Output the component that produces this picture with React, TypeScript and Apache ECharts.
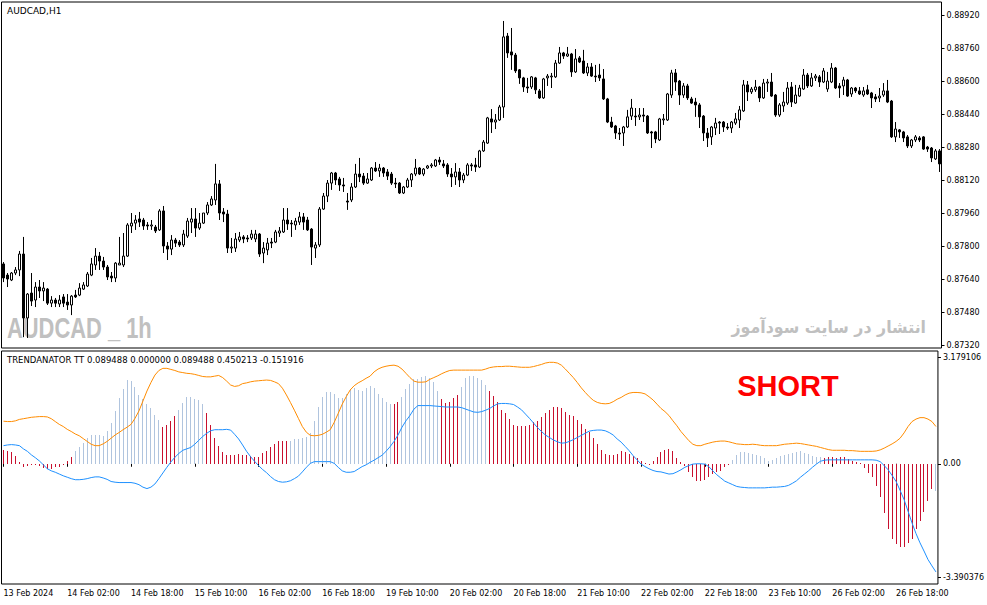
import React, { useEffect, useRef } from "react";
import * as echarts from "echarts";

// ---------- DATA ----------
const opens = [
  0.87713, 0.87659, 0.87635, 0.87669, 0.87684, 0.87761, 0.87451, 0.87572, 0.87538, 0.87601,
  0.87582, 0.87591, 0.87523, 0.87538, 0.87519, 0.87553, 0.87528, 0.87514, 0.87562, 0.87562,
  0.87591, 0.87606, 0.87659, 0.87708, 0.87751, 0.87727, 0.87698, 0.87654, 0.87645, 0.87708,
  0.87708, 0.87751, 0.87897, 0.87911, 0.87931, 0.87926, 0.87902, 0.87897, 0.87892, 0.87878,
  0.87970, 0.87800, 0.87785, 0.87829, 0.87819, 0.87805, 0.87848, 0.87916, 0.87931, 0.87887,
  0.87911, 0.87960, 0.87999, 0.88023, 0.88101, 0.87965, 0.87955, 0.87790, 0.87790, 0.87829,
  0.87844, 0.87839, 0.87839, 0.87834, 0.87858, 0.87766, 0.87781, 0.87819, 0.87819, 0.87863,
  0.87868, 0.87926, 0.87911, 0.87902, 0.87916, 0.87941, 0.87926, 0.87882, 0.87790, 0.87805,
  0.87979, 0.88042, 0.88105, 0.88154, 0.88125, 0.88096, 0.88018, 0.88023, 0.88086, 0.88149,
  0.88139, 0.88105, 0.88120, 0.88178, 0.88164, 0.88178, 0.88159, 0.88149, 0.88105, 0.88105,
  0.88057, 0.88086, 0.88120, 0.88149, 0.88178, 0.88149, 0.88178, 0.88188, 0.88188, 0.88217,
  0.88198, 0.88193, 0.88149, 0.88135, 0.88159, 0.88120, 0.88144, 0.88193, 0.88193, 0.88183,
  0.88261, 0.88299, 0.88416, 0.88401, 0.88411, 0.88474, 0.88818, 0.88741, 0.88726, 0.88654,
  0.88615, 0.88571, 0.88571, 0.88615, 0.88552, 0.88518, 0.88615, 0.88620, 0.88620, 0.88687,
  0.88736, 0.88721, 0.88731, 0.88644, 0.88712, 0.88697, 0.88639, 0.88668, 0.88624, 0.88629,
  0.88610, 0.88513, 0.88401, 0.88382, 0.88348, 0.88348, 0.88377, 0.88430, 0.88430, 0.88426,
  0.88435, 0.88430, 0.88353, 0.88353, 0.88314, 0.88411, 0.88411, 0.88532, 0.88639, 0.88600,
  0.88532, 0.88576, 0.88513, 0.88498, 0.88484, 0.88430, 0.88348, 0.88329, 0.88372, 0.88401,
  0.88401, 0.88377, 0.88372, 0.88396, 0.88411, 0.88455, 0.88581, 0.88547, 0.88557, 0.88571,
  0.88518, 0.88590, 0.88595, 0.88532, 0.88435, 0.88479, 0.88493, 0.88571, 0.88493, 0.88527,
  0.88561, 0.88629, 0.88576, 0.88615, 0.88620, 0.88595, 0.88561, 0.88595, 0.88663, 0.88576,
  0.88576, 0.88605, 0.88537, 0.88566, 0.88552, 0.88532, 0.88557, 0.88542, 0.88523, 0.88518,
  0.88532, 0.88552, 0.88503, 0.88329, 0.88363, 0.88353, 0.88329, 0.88285, 0.88314, 0.88324,
  0.88329, 0.88280, 0.88275, 0.88222, 0.88261,
];
const closes = [
  0.87645, 0.87640, 0.87669, 0.87684, 0.87761, 0.87451, 0.87567, 0.87533, 0.87601, 0.87582,
  0.87596, 0.87523, 0.87538, 0.87523, 0.87538, 0.87523, 0.87514, 0.87557, 0.87553, 0.87596,
  0.87611, 0.87664, 0.87713, 0.87751, 0.87727, 0.87698, 0.87650, 0.87645, 0.87717, 0.87717,
  0.87751, 0.87902, 0.87911, 0.87926, 0.87916, 0.87897, 0.87897, 0.87902, 0.87873, 0.87970,
  0.87800, 0.87785, 0.87829, 0.87814, 0.87805, 0.87858, 0.87921, 0.87931, 0.87887, 0.87911,
  0.87960, 0.87999, 0.88028, 0.88101, 0.87960, 0.87955, 0.87790, 0.87795, 0.87834, 0.87844,
  0.87834, 0.87834, 0.87858, 0.87858, 0.87761, 0.87790, 0.87814, 0.87814, 0.87868, 0.87873,
  0.87926, 0.87907, 0.87907, 0.87921, 0.87941, 0.87916, 0.87878, 0.87795, 0.87805, 0.87979,
  0.88042, 0.88105, 0.88154, 0.88120, 0.88096, 0.88091, 0.88013, 0.88086, 0.88149, 0.88135,
  0.88105, 0.88125, 0.88178, 0.88164, 0.88178, 0.88154, 0.88139, 0.88105, 0.88101, 0.88057,
  0.88086, 0.88120, 0.88149, 0.88178, 0.88149, 0.88173, 0.88188, 0.88193, 0.88217, 0.88207,
  0.88188, 0.88149, 0.88135, 0.88159, 0.88120, 0.88144, 0.88193, 0.88188, 0.88183, 0.88261,
  0.88304, 0.88421, 0.88401, 0.88411, 0.88474, 0.88814, 0.88736, 0.88726, 0.88649, 0.88615,
  0.88571, 0.88566, 0.88620, 0.88557, 0.88518, 0.88610, 0.88624, 0.88624, 0.88687, 0.88736,
  0.88721, 0.88731, 0.88644, 0.88707, 0.88692, 0.88639, 0.88668, 0.88624, 0.88620, 0.88615,
  0.88513, 0.88401, 0.88377, 0.88348, 0.88343, 0.88377, 0.88426, 0.88469, 0.88426, 0.88435,
  0.88430, 0.88348, 0.88348, 0.88319, 0.88416, 0.88416, 0.88537, 0.88639, 0.88595, 0.88532,
  0.88576, 0.88518, 0.88493, 0.88484, 0.88426, 0.88348, 0.88324, 0.88377, 0.88396, 0.88396,
  0.88377, 0.88372, 0.88401, 0.88416, 0.88460, 0.88581, 0.88547, 0.88561, 0.88571, 0.88518,
  0.88590, 0.88595, 0.88527, 0.88435, 0.88484, 0.88498, 0.88566, 0.88498, 0.88532, 0.88566,
  0.88629, 0.88576, 0.88615, 0.88624, 0.88595, 0.88649, 0.88600, 0.88663, 0.88566, 0.88566,
  0.88605, 0.88527, 0.88566, 0.88552, 0.88537, 0.88552, 0.88537, 0.88518, 0.88513, 0.88527,
  0.88552, 0.88498, 0.88329, 0.88367, 0.88353, 0.88324, 0.88285, 0.88314, 0.88329, 0.88314,
  0.88270, 0.88270, 0.88227, 0.88261, 0.88198,
];
const highs = [
  0.87722, 0.87669, 0.87674, 0.87698, 0.87776, 0.87844, 0.87572, 0.87669, 0.87625, 0.87635,
  0.87625, 0.87596, 0.87557, 0.87548, 0.87562, 0.87567, 0.87567, 0.87562, 0.87587, 0.87620,
  0.87625, 0.87674, 0.87742, 0.87790, 0.87771, 0.87747, 0.87708, 0.87674, 0.87722, 0.87844,
  0.87863, 0.87911, 0.87960, 0.87950, 0.87965, 0.87936, 0.87916, 0.87926, 0.87902, 0.87979,
  0.87994, 0.87819, 0.87853, 0.87839, 0.87829, 0.87878, 0.87936, 0.87984, 0.87984, 0.87960,
  0.87960, 0.88013, 0.88042, 0.88198, 0.88120, 0.87984, 0.87975, 0.87839, 0.87863, 0.87868,
  0.87853, 0.87853, 0.87878, 0.87878, 0.87863, 0.87819, 0.87839, 0.87839, 0.87878, 0.87892,
  0.87984, 0.87984, 0.87926, 0.87936, 0.87965, 0.87960, 0.87941, 0.87887, 0.87819, 0.87989,
  0.88057, 0.88120, 0.88159, 0.88159, 0.88135, 0.88130, 0.88057, 0.88105, 0.88198, 0.88227,
  0.88154, 0.88154, 0.88183, 0.88207, 0.88198, 0.88183, 0.88173, 0.88159, 0.88130, 0.88110,
  0.88091, 0.88130, 0.88154, 0.88222, 0.88183, 0.88178, 0.88193, 0.88202, 0.88222, 0.88232,
  0.88217, 0.88202, 0.88178, 0.88202, 0.88178, 0.88154, 0.88202, 0.88202, 0.88227, 0.88266,
  0.88314, 0.88426, 0.88464, 0.88440, 0.88484, 0.88891, 0.88833, 0.88857, 0.88736, 0.88658,
  0.88620, 0.88615, 0.88624, 0.88620, 0.88561, 0.88615, 0.88634, 0.88639, 0.88702, 0.88765,
  0.88741, 0.88765, 0.88736, 0.88755, 0.88721, 0.88751, 0.88687, 0.88687, 0.88678, 0.88683,
  0.88658, 0.88518, 0.88426, 0.88387, 0.88372, 0.88382, 0.88460, 0.88513, 0.88469, 0.88469,
  0.88469, 0.88435, 0.88358, 0.88358, 0.88421, 0.88440, 0.88542, 0.88654, 0.88658, 0.88605,
  0.88590, 0.88586, 0.88523, 0.88518, 0.88493, 0.88435, 0.88372, 0.88382, 0.88421, 0.88406,
  0.88406, 0.88396, 0.88406, 0.88445, 0.88479, 0.88605, 0.88600, 0.88571, 0.88605, 0.88576,
  0.88610, 0.88610, 0.88639, 0.88537, 0.88493, 0.88547, 0.88595, 0.88595, 0.88581, 0.88581,
  0.88658, 0.88639, 0.88639, 0.88634, 0.88629, 0.88663, 0.88644, 0.88687, 0.88668, 0.88590,
  0.88620, 0.88610, 0.88571, 0.88571, 0.88571, 0.88571, 0.88581, 0.88547, 0.88537, 0.88566,
  0.88590, 0.88605, 0.88508, 0.88401, 0.88367, 0.88358, 0.88338, 0.88319, 0.88338, 0.88333,
  0.88333, 0.88285, 0.88280, 0.88270, 0.88270,
];
const lows = [
  0.87625, 0.87601, 0.87630, 0.87659, 0.87654, 0.87358, 0.87354, 0.87509, 0.87504, 0.87548,
  0.87533, 0.87514, 0.87504, 0.87504, 0.87504, 0.87504, 0.87490, 0.87465, 0.87548, 0.87557,
  0.87587, 0.87601, 0.87654, 0.87684, 0.87684, 0.87684, 0.87635, 0.87625, 0.87625, 0.87708,
  0.87698, 0.87747, 0.87863, 0.87878, 0.87892, 0.87878, 0.87878, 0.87878, 0.87863, 0.87873,
  0.87766, 0.87732, 0.87756, 0.87795, 0.87795, 0.87795, 0.87839, 0.87863, 0.87844, 0.87878,
  0.87907, 0.87950, 0.87994, 0.87999, 0.87926, 0.87916, 0.87766, 0.87766, 0.87771, 0.87819,
  0.87814, 0.87819, 0.87829, 0.87819, 0.87747, 0.87717, 0.87756, 0.87790, 0.87814, 0.87844,
  0.87863, 0.87878, 0.87844, 0.87878, 0.87902, 0.87878, 0.87873, 0.87708, 0.87742, 0.87795,
  0.87975, 0.88013, 0.88072, 0.88096, 0.88067, 0.88062, 0.87975, 0.88013, 0.88081, 0.88110,
  0.88096, 0.88101, 0.88115, 0.88159, 0.88135, 0.88135, 0.88120, 0.88096, 0.88081, 0.88052,
  0.88052, 0.88081, 0.88086, 0.88139, 0.88144, 0.88139, 0.88173, 0.88178, 0.88183, 0.88193,
  0.88178, 0.88135, 0.88086, 0.88096, 0.88086, 0.88105, 0.88139, 0.88164, 0.88159, 0.88178,
  0.88256, 0.88295, 0.88348, 0.88367, 0.88406, 0.88421, 0.88712, 0.88654, 0.88639, 0.88586,
  0.88547, 0.88542, 0.88561, 0.88537, 0.88513, 0.88513, 0.88576, 0.88566, 0.88615, 0.88683,
  0.88707, 0.88717, 0.88620, 0.88639, 0.88687, 0.88634, 0.88624, 0.88620, 0.88595, 0.88600,
  0.88508, 0.88396, 0.88372, 0.88319, 0.88314, 0.88285, 0.88372, 0.88411, 0.88382, 0.88411,
  0.88401, 0.88343, 0.88275, 0.88299, 0.88309, 0.88387, 0.88406, 0.88518, 0.88552, 0.88484,
  0.88518, 0.88508, 0.88489, 0.88426, 0.88372, 0.88309, 0.88280, 0.88290, 0.88338, 0.88343,
  0.88353, 0.88363, 0.88348, 0.88387, 0.88372, 0.88450, 0.88503, 0.88537, 0.88547, 0.88498,
  0.88513, 0.88547, 0.88523, 0.88426, 0.88426, 0.88450, 0.88484, 0.88474, 0.88489, 0.88523,
  0.88557, 0.88566, 0.88571, 0.88600, 0.88571, 0.88590, 0.88547, 0.88590, 0.88561, 0.88518,
  0.88532, 0.88523, 0.88523, 0.88542, 0.88532, 0.88523, 0.88532, 0.88469, 0.88498, 0.88498,
  0.88523, 0.88493, 0.88324, 0.88304, 0.88324, 0.88304, 0.88275, 0.88275, 0.88304, 0.88304,
  0.88266, 0.88256, 0.88207, 0.88217, 0.88159,
];

const histValues = [
  0.39, 0.35, 0.33, 0.21, 0.05, -0.09, -0.05, -0.03, -0.03, -0.07,
  -0.12, -0.14, -0.15, -0.10, -0.08, -0.03, 0.07, 0.18, 0.35, 0.48,
  0.59, 0.72, 0.80, 0.80, 0.80, 0.79, 0.91, 1.15, 1.50, 1.84,
  2.10, 2.36, 2.33, 2.16, 1.95, 1.82, 1.68, 1.56, 1.38, 1.24,
  1.05, 1.08, 1.21, 1.36, 1.52, 1.71, 1.87, 1.87, 1.83, 1.80,
  1.68, 1.42, 1.08, 0.74, 0.49, 0.33, 0.24, 0.26, 0.26, 0.27,
  0.26, 0.26, 0.21, 0.20, 0.20, 0.29, 0.37, 0.46, 0.55, 0.63,
  0.64, 0.64, 0.64, 0.69, 0.70, 0.72, 0.76, 0.88, 1.20, 1.60,
  1.88, 2.02, 2.03, 1.96, 1.86, 1.84, 1.96, 2.11, 2.14, 2.08,
  2.05, 2.13, 2.19, 2.13, 1.96, 1.84, 1.73, 1.69, 1.68, 1.73,
  1.89, 2.10, 2.24, 2.38, 2.38, 2.45, 2.48, 2.43, 2.31, 2.05,
  1.83, 1.72, 1.75, 1.84, 1.94, 2.15, 2.41, 2.47, 2.47, 2.41,
  2.36, 2.22, 2.05, 1.91, 1.73, 1.52, 1.42, 1.26, 1.10, 1.07,
  1.07, 1.07, 1.10, 1.17, 1.21, 1.33, 1.42, 1.52, 1.59, 1.59,
  1.56, 1.45, 1.38, 1.35, 1.24, 1.12, 0.98, 0.89, 0.72, 0.56,
  0.39, 0.28, 0.25, 0.25, 0.28, 0.35, 0.33, 0.28, 0.22, 0.16,
  0.08, 0.01, 0.00, 0.07, 0.19, 0.33, 0.39, 0.42, 0.37, 0.16,
  0.05, -0.05, -0.22, -0.36, -0.48, -0.50, -0.45, -0.36, -0.29, -0.23,
  -0.20, -0.10, -0.02, 0.11, 0.25, 0.33, 0.33, 0.30, 0.27, 0.25,
  0.21, 0.16, 0.08, 0.11, 0.16, 0.23, 0.25, 0.27, 0.30, 0.33,
  0.35, 0.30, 0.27, 0.21, 0.18, 0.18, 0.16, 0.18, 0.18, 0.16,
  0.18, 0.18, 0.14, 0.07, 0.05, 0.01, -0.12, -0.26, -0.38, -0.62,
  -0.95, -1.39, -1.85, -2.11, -2.26, -2.34, -2.34, -2.23, -2.11, -1.85,
  -1.62, -1.36, -1.06, -0.70, -0.76,
];
// r = crimson bar, g = light steel blue bar
const histState =
  "rrrrrrrrrr" + "rrrrrrrr" +
  "gggggggggg" + "gggggggggg" + "gg" +
  "rrrr" +
  "ggggggg" +
  "rrrrrrrrrr" + "rrrrrrrrrr" + "r" +
  "gggggggggg" + "gggggggggg" + "gggggg" +
  "rr" +
  "gggggggggg" +
  "rrrrr" +
  "ggggggg" +
  "rrrrrrrrrr" + "rrrrrrrrrr" + "rrrrrrrrrr" + "rrrrrrrrrr" + "rrrrrrrrrr" + "rrrrrrrrrr" + "r" +
  "gggggggggg" + "gggggggggg" + "ggg" +
  "rrrrrrrrrr" + "rrrrrrrrrr" + "rrrrrrrr" +
  "g";

const orangeLine = [
  1.20, 1.19, 1.19, 1.21, 1.25, 1.27, 1.29, 1.31, 1.32, 1.33,
  1.33, 1.32, 1.27, 1.19, 1.11, 1.05, 0.97, 0.91, 0.84, 0.79,
  0.71, 0.63, 0.55, 0.51, 0.51, 0.56, 0.63, 0.72, 0.81, 0.88,
  0.96, 1.03, 1.11, 1.28, 1.49, 1.77, 2.05, 2.29, 2.50, 2.63,
  2.69, 2.69, 2.66, 2.63, 2.59, 2.57, 2.55, 2.54, 2.52, 2.49,
  2.46, 2.45, 2.45, 2.47, 2.49, 2.43, 2.33, 2.22, 2.18, 2.20,
  2.26, 2.28, 2.31, 2.33, 2.34, 2.35, 2.36, 2.35, 2.31, 2.26,
  2.13, 1.94, 1.73, 1.51, 1.28, 1.05, 0.89, 0.80, 0.79, 0.80,
  0.83, 0.89, 0.96, 1.17, 1.42, 1.68, 1.89, 2.08, 2.20, 2.28,
  2.34, 2.41, 2.47, 2.59, 2.67, 2.72, 2.75, 2.77, 2.78, 2.75,
  2.67, 2.55, 2.43, 2.33, 2.30, 2.30, 2.31, 2.38, 2.43, 2.48,
  2.54, 2.59, 2.63, 2.64, 2.64, 2.64, 2.64, 2.64, 2.64, 2.64,
  2.64, 2.67, 2.71, 2.73, 2.74, 2.74, 2.75, 2.75, 2.74, 2.73,
  2.72, 2.72, 2.72, 2.74, 2.77, 2.80, 2.84, 2.86, 2.86, 2.84,
  2.78, 2.67, 2.55, 2.43, 2.29, 2.14, 2.01, 1.89, 1.79, 1.73,
  1.70, 1.69, 1.70, 1.75, 1.82, 1.87, 1.94, 1.99, 2.01, 2.01,
  2.00, 1.97, 1.89, 1.80, 1.68, 1.56, 1.47, 1.36, 1.21, 1.07,
  0.91, 0.78, 0.65, 0.55, 0.51, 0.51, 0.55, 0.58, 0.61, 0.63,
  0.64, 0.64, 0.62, 0.59, 0.56, 0.55, 0.54, 0.54, 0.55, 0.54,
  0.52, 0.51, 0.51, 0.51, 0.51, 0.53, 0.55, 0.56, 0.57, 0.58,
  0.57, 0.55, 0.53, 0.51, 0.49, 0.46, 0.43, 0.40, 0.38, 0.38,
  0.38, 0.38, 0.37, 0.37, 0.36, 0.35, 0.35, 0.35, 0.35, 0.36,
  0.39, 0.44, 0.50, 0.56, 0.63, 0.72, 0.87, 1.05, 1.19, 1.26,
  1.30, 1.30, 1.26, 1.19, 1.05,
];
const blueLine = [
  0.51, 0.53, 0.54, 0.53, 0.51, 0.42, 0.35, 0.25, 0.17, 0.08,
  -0.03, -0.14, -0.20, -0.24, -0.29, -0.34, -0.38, -0.42, -0.45, -0.45,
  -0.44, -0.42, -0.39, -0.37, -0.37, -0.40, -0.44, -0.50, -0.52, -0.53,
  -0.53, -0.53, -0.53, -0.55, -0.59, -0.66, -0.70, -0.66, -0.57, -0.42,
  -0.26, -0.10, 0.05, 0.18, 0.29, 0.38, 0.42, 0.46, 0.55, 0.66,
  0.77, 0.86, 0.93, 0.96, 0.96, 0.96, 0.97, 0.95, 0.83, 0.70,
  0.53, 0.35, 0.20, 0.07, -0.05, -0.16, -0.25, -0.36, -0.45, -0.50,
  -0.52, -0.51, -0.48, -0.42, -0.35, -0.23, -0.10, 0.01, 0.06, 0.06,
  0.06, 0.06, 0.06, 0.01, -0.10, -0.20, -0.24, -0.24, -0.22, -0.15,
  -0.08, -0.03, 0.04, 0.10, 0.17, 0.24, 0.35, 0.48, 0.63, 0.81,
  1.03, 1.21, 1.36, 1.54, 1.64, 1.64, 1.64, 1.64, 1.63, 1.62,
  1.61, 1.60, 1.60, 1.60, 1.60, 1.58, 1.54, 1.50, 1.46, 1.45,
  1.47, 1.51, 1.56, 1.63, 1.69, 1.70, 1.70, 1.69, 1.67, 1.60,
  1.52, 1.40, 1.28, 1.15, 1.02, 0.91, 0.81, 0.74, 0.67, 0.62,
  0.58, 0.59, 0.63, 0.68, 0.74, 0.80, 0.86, 0.92, 0.94, 0.95,
  0.95, 0.93, 0.88, 0.81, 0.70, 0.61, 0.49, 0.37, 0.23, 0.11,
  -0.01, -0.08, -0.14, -0.19, -0.22, -0.23, -0.26, -0.29, -0.28, -0.23,
  -0.17, -0.10, -0.05, -0.01, 0.00, 0.00, -0.01, -0.08, -0.20, -0.31,
  -0.40, -0.49, -0.54, -0.59, -0.64, -0.66, -0.67, -0.68, -0.68, -0.68,
  -0.68, -0.68, -0.67, -0.66, -0.66, -0.65, -0.64, -0.61, -0.55, -0.48,
  -0.38, -0.29, -0.20, -0.10, -0.01, 0.07, 0.10, 0.11, 0.11, 0.11,
  0.11, 0.11, 0.11, 0.11, 0.11, 0.11, 0.11, 0.11, 0.11, 0.10,
  0.06, -0.05, -0.17, -0.33, -0.50, -0.75, -1.01, -1.34, -1.67, -1.97,
  -2.23, -2.46, -2.70, -2.88, -3.05,
];

const xTickLabels = [
  "13 Feb 2024", "14 Feb 02:00", "14 Feb 18:00", "15 Feb 10:00", "16 Feb 02:00",
  "16 Feb 18:00", "19 Feb 10:00", "20 Feb 02:00", "20 Feb 18:00", "21 Feb 10:00",
  "22 Feb 02:00", "22 Feb 18:00", "23 Feb 10:00", "26 Feb 02:00", "26 Feb 18:00",
];
const barsPerLabel = 16;
const priceTicks = [
  0.8732, 0.8748, 0.8764, 0.878, 0.8796, 0.8812, 0.8828, 0.8844, 0.886, 0.8876, 0.8892,
];
const indMin = -3.390376;
const indMax = 3.179106;
const indTickLabels = ["-3.390376", "0.00", "3.179106"];
const indicatorTitle = "TRENDANATOR TT 0.089488 0.000000 0.089488 0.450213 -0.151916";

// ---------- layout / style ----------
const FONT = "DejaVu Sans";
const RED = "#C8102E";
const GREY = "#B0C4DE";
const MAIN_TOP = 2;
const MAIN_H = 346;
const IND_TOP = 351;
const IND_H = 233;
const PX_PER_PRICE = 330 / 0.016;

export default function App() {
  const ref = useRef<HTMLDivElement>(null);

  useEffect(() => {
    if (!ref.current) return;
    const chart = echarts.init(ref.current, undefined, { renderer: "svg" });
    const n = opens.length;
    const cats = opens.map((_, i) => String(i));
    const mainMax = 0.8892 + 13 / PX_PER_PRICE;
    const mainMin = 0.8732 - 3 / PX_PER_PRICE;
    const indPx = IND_H / (indMax - indMin);
    const indLabelPos = [indMin + 7 / indPx, 0, indMax - 6.7 / indPx];
    const showIdx = (idx: number) => idx % barsPerLabel === 0;

    const option: any = {
      animation: false,
      backgroundColor: "#ffffff",
      grid: [
        { left: 1.5, top: MAIN_TOP, width: 4 * n, height: MAIN_H, show: true, borderColor: "#000", borderWidth: 1, backgroundColor: "transparent" },
        { left: 1.5, top: IND_TOP, width: 4 * n, height: IND_H, show: true, borderColor: "#000", borderWidth: 1, backgroundColor: "transparent" },
      ],
      xAxis: [
        {
          type: "category", gridIndex: 0, data: cats, boundaryGap: true,
          axisLine: { show: false }, axisTick: { show: false }, axisLabel: { show: false }, splitLine: { show: false },
        },
        {
          type: "category", gridIndex: 1, data: cats, boundaryGap: true,
          axisLine: { show: false },
          axisTick: { show: true, alignWithLabel: true, interval: (i: number) => showIdx(i), length: 3, lineStyle: { color: "#000", width: 1 } },
          axisLabel: {
            interval: (i: number) => showIdx(i),
            formatter: (_v: string, i: number) => xTickLabels[Math.round(i / barsPerLabel)] ?? "",
            align: "left", fontSize: 8, fontFamily: FONT, color: "#000", margin: 5,
          },
          splitLine: { show: false },
        },
      ],
      yAxis: [
        {
          type: "value", gridIndex: 0, position: "right", min: mainMin, max: mainMax, scale: true,
          axisLine: { show: false }, splitLine: { show: false },
          axisTick: { show: true, length: 3, customValues: priceTicks, lineStyle: { color: "#000" } },
          axisLabel: { customValues: priceTicks, formatter: (v: number) => v.toFixed(5), fontSize: 8, fontFamily: FONT, color: "#000", margin: 5 },
        },
        {
          type: "value", gridIndex: 1, position: "right", min: indMin, max: indMax,
          axisLine: { show: false }, splitLine: { show: false },
          axisTick: { show: true, length: 3, customValues: indLabelPos, lineStyle: { color: "#000" } },
          axisLabel: {
            customValues: indLabelPos,
            formatter: (v: number) => (v > 1 ? indTickLabels[2] : v < -1 ? indTickLabels[0] : indTickLabels[1]),
            fontSize: 8, fontFamily: FONT, color: "#000", margin: 5,
          },
        },
      ],
      graphic: [
        { type: "text", x: 7, y: 327.5, scaleX: 0.73, z: 1, silent: true,
          style: { text: "AUDCAD _ 1h", fontSize: 30, fontWeight: "bold", fontFamily: "Liberation Sans", fill: "#C0C0C0", verticalAlign: "middle" } },
        { type: "text", x: 926, y: 327, scaleX: 0.93, z: 1, silent: true,
          style: { text: "انتشار در سایت سودآموز", fontSize: 17, fontWeight: "bold", fontFamily: FONT, fill: "#C0C0C0", align: "right", verticalAlign: "middle" } },
        { type: "text", x: 7, y: 10.7, z: 10, silent: true,
          style: { text: "AUDCAD,H1", fontSize: 9, fontFamily: FONT, fill: "#000", verticalAlign: "middle" } },
        { type: "text", x: 7, y: 360, z: 10, silent: true,
          style: { text: indicatorTitle, fontSize: 8.5, fontFamily: FONT, fill: "#000", verticalAlign: "middle" } },
        { type: "text", x: 788, y: 386, z: 10, silent: true,
          style: { text: "SHORT", fontSize: 29, fontWeight: "bold", fontFamily: "Liberation Sans", fill: "#FF0000", align: "center", verticalAlign: "middle" } },
      ],
      series: [
        {
          type: "candlestick", xAxisIndex: 0, yAxisIndex: 0, barWidth: 3,
          data: opens.map((o, i) => [o, closes[i], lows[i], highs[i]]),
          itemStyle: { color: "#ffffff", color0: "#000000", borderColor: "#000000", borderColor0: "#000000", borderWidth: 1 },
        },
        {
          type: "custom", xAxisIndex: 1, yAxisIndex: 1, z: 2,
          data: histValues.map((v, i) => [i, v]),
          encode: { x: 0, y: 1 },
          renderItem: (params: any, api: any) => {
            const idx = api.value(0);
            const v = api.value(1);
            const p0 = api.coord([idx, 0]);
            const p1 = api.coord([idx, v]);
            const x = Math.floor(p0[0]);
            const y0 = Math.round(p0[1]);
            const y1 = Math.round(p1[1]);
            return {
              type: "rect",
              shape: { x, y: Math.min(y0, y1), width: 1, height: Math.max(1, Math.abs(y1 - y0)) },
              style: { fill: histState[params.dataIndex] === "r" ? RED : GREY },
            };
          },
        },
        {
          type: "line", xAxisIndex: 1, yAxisIndex: 1, data: orangeLine, symbol: "none", showSymbol: false,
          lineStyle: { color: "#FF8C00", width: 1 }, z: 3,
        },
        {
          type: "line", xAxisIndex: 1, yAxisIndex: 1, data: blueLine, symbol: "none", showSymbol: false,
          lineStyle: { color: "#1E90FF", width: 1 }, z: 3,
        },
      ],
    };
    chart.setOption(option);
    return () => chart.dispose();
  }, []);

  return <div ref={ref} style={{ position: "fixed", left: 0, top: 0, width: 987, height: 605, background: "#fff" }} />;
}
